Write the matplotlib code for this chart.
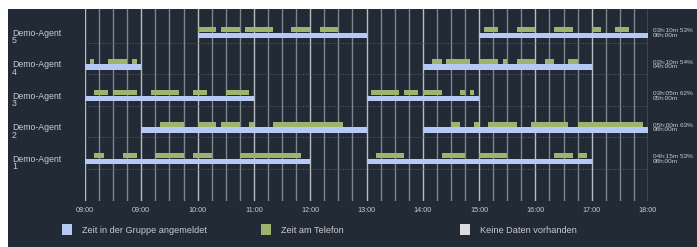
"""Agent timeline: logged-in time per group vs. time on the phone."""

import matplotlib

matplotlib.use("Agg")
import matplotlib.pyplot as plt
from matplotlib.patches import Rectangle

plt.rcParams["font.family"] = ["Liberation Sans", "DejaVu Sans"]

BG = "#222a35"
BLUE = "#b6c9f6"
GREEN = "#9db46c"
NODATA = "#dcdcdc"
TEXT = "#c9ccd0"

agents = ["Demo-Agent\n1", "Demo-Agent\n2", "Demo-Agent\n3", "Demo-Agent\n4", "Demo-Agent\n5"]

login_1 = [("08:00", "12:00"), ("13:00", "17:00")]
login_2 = [("09:00", "13:00"), ("14:00", "18:00")]
login_3 = [("08:00", "11:00"), ("13:00", "15:00")]
login_4 = [("08:00", "09:00"), ("14:00", "17:00")]
login_5 = [("10:00", "13:00"), ("15:00", "18:00")]

phone_1 = [("08:10", "08:20"), ("08:40", "08:55"), ("09:15", "09:45"), ("09:55", "10:15"),
           ("10:45", "11:50"), ("13:10", "13:40"), ("14:20", "14:45"), ("15:00", "15:30"),
           ("16:20", "16:40"), ("16:45", "16:55")]
phone_2 = [("09:20", "09:45"), ("10:00", "10:20"), ("10:25", "10:45"), ("10:55", "11:00"),
           ("11:20", "12:35"), ("14:30", "14:40"), ("14:55", "15:00"), ("15:10", "15:40"),
           ("15:55", "16:35"), ("16:45", "17:55")]
phone_3 = [("08:10", "08:25"), ("08:30", "08:55"), ("09:10", "09:40"), ("09:55", "10:10"),
           ("10:30", "10:55"), ("13:05", "13:35"), ("13:40", "13:55"), ("14:00", "14:20"),
           ("14:40", "14:45"), ("14:50", "14:55")]
phone_4 = [("08:05", "08:10"), ("08:25", "08:45"), ("08:50", "08:55"), ("14:10", "14:20"),
           ("14:25", "14:50"), ("15:00", "15:20"), ("15:25", "15:30"), ("15:40", "16:00"),
           ("16:10", "16:20"), ("16:35", "16:45")]
phone_5 = [("10:00", "10:20"), ("10:25", "10:45"), ("10:50", "11:20"), ("11:40", "12:00"),
           ("12:10", "12:30"), ("15:05", "15:20"), ("15:40", "16:00"), ("16:20", "16:40"),
           ("17:00", "17:10"), ("17:25", "17:40")]

summary = ["04h:15m 53%\n08h:00m", "05h:00m 63%\n08h:00m", "03h:05m 62%\n05h:00m",
           "02h:10m 54%\n04h:00m", "03h:10m 53%\n06h:00m"]

hours = list(range(8, 19))
tick_labels = [f"{h:02d}:00" for h in hours]

legend_labels = ["Zeit in der Gruppe angemeldet", "Zeit am Telefon", "Keine Daten vorhanden"]


def to_h(s):
    h, m = s.split(":")
    return int(h) + int(m) / 60.0


W, H = 697, 247
fig = plt.figure(figsize=(W / 100, H / 100), dpi=100, facecolor="white")
fig.add_artist(Rectangle((8 / W, 0), 1, (H - 9) / H, transform=fig.transFigure,
                         facecolor=BG, edgecolor="none", zorder=-5))

ax = fig.add_axes([85 / W, (H - 201) / H, (648 - 85) / W, (201 - 9) / H])
ax.set_zorder(2)
ax.set_facecolor("none")
ax.set_xlim(8, 18)
ax.set_ylim(-0.254, 5.841)
for s in ax.spines.values():
    s.set_visible(False)

# vertical grid, every quarter hour, hours brighter
for q in range(0, 41):
    x = 8 + q / 4
    hour = q % 4 == 0
    ax.axvline(x, color="#b9bcc0" if hour else "#7f858c", lw=1.0, zorder=1)

logins = [login_1, login_2, login_3, login_4, login_5]
phones = [phone_1, phone_2, phone_3, phone_4, phone_5]
bar_h = 0.16
for i, (lg, ph) in enumerate(zip(logins, phones)):
    y = i + 1
    ax.axhline(y - 0.238, color="#6a717b", lw=0.6, ls=(0, (1, 2)), zorder=1)
    for a, b in lg:
        ax.barh(y, to_h(b) - to_h(a), left=to_h(a), height=bar_h, color=BLUE, zorder=3)
    for a, b in ph:
        ax.barh(y + 0.185, to_h(b) - to_h(a), left=to_h(a), height=bar_h, color=GREEN, zorder=3)
    ax.text(-73 / 563 * 10 + 8, y - 0.05, agents[i], ha="left", va="center",
            fontsize=6.3, color=TEXT, linespacing=0.75, clip_on=False)
    ax.text(18 + 5 / 56.3, y + 0.08, summary[i], ha="left", va="center",
            fontsize=4.6, color=TEXT, linespacing=0.85, clip_on=False)

ax.set_yticks([])
ax.set_xticks(hours)
ax.set_xticklabels(tick_labels, fontsize=5.2, color=TEXT)
ax.tick_params(axis="x", length=0, pad=4)

# legend row
colors = [BLUE, GREEN, NODATA]
for k, (lab, c) in enumerate(zip(legend_labels, colors)):
    x0 = 62 + k * 199
    fig.add_artist(Rectangle((x0 / W, (H - 235) / H), 10 / W, 11 / H,
                             transform=fig.transFigure, facecolor=c, edgecolor="none"))
    fig.text((x0 + 20) / W, (H - 230) / H, lab, ha="left", va="center",
             fontsize=6.6, color=TEXT)

fig.savefig("out.png", dpi=100, facecolor=fig.get_facecolor())
